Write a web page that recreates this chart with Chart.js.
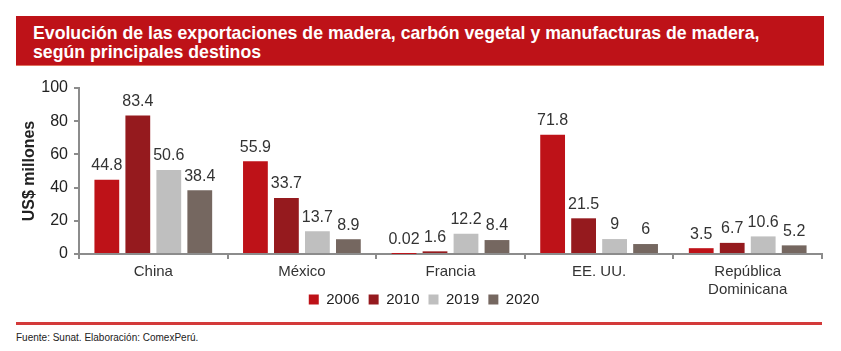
<!DOCTYPE html>
<html lang="es">

<head>
  <meta charset="utf-8">
  <title>Exportaciones de madera</title>
  <script src="https://cdn.jsdelivr.net/npm/chart.js"></script>

  <style>
    body {
      margin: 0;
      width: 841px;
      height: 351px;
      background: #fff;
      font-family: "Liberation Sans", Arial, sans-serif;
      position: relative;
      overflow: hidden;
    }

    /* Barra del título */
    .titulo {
      position: absolute;
      left: 16px;
      top: 16px;
      width: 808px;
      height: 50px;
      background: #BE1218;
      border-bottom: 1px solid #e0735f;
      box-sizing: border-box;
      color: #fff;
      font-weight: bold;
      font-size: 17.7px;
      line-height: 18.5px;
      padding: 8px 0 0 17px;
    }

    .grafico {
      position: absolute;
      left: 0;
      top: 70px;
      width: 841px;
      height: 247px;
    }

    .linea {
      position: absolute;
      left: 16px;
      top: 322px;
      width: 806px;
      height: 3px;
      background: #D33A3A;
    }

    .fuente {
      position: absolute;
      left: 16px;
      top: 332px;
      font-size: 10px;
      color: #222;
    }
  </style>
</head>

<body>

  <div class="titulo">
    Evolución de las exportaciones de madera, carbón vegetal y manufacturas de madera,<br>
    según principales destinos
  </div>

  <div class="grafico">
    <canvas id="myChart"></canvas>
  </div>

  <div class="linea"></div>
  <div class="fuente">Fuente: Sunat. Elaboración: ComexPerú.</div>

<script>
  // Datos (US$ millones)
  var destinos = ['China', 'México', 'Francia', 'EE. UU.', ['República', 'Dominicana']];
  var anios = ['2006', '2010', '2019', '2020'];
  var valores2006 = [44.8, 55.9, 0.02, 71.8, 3.5];
  var valores2010 = [83.4, 33.7, 1.6, 21.5, 6.7];
  var valores2019 = [50.6, 13.7, 12.2, 9, 10.6];
  var valores2020 = [38.4, 8.9, 8.4, 6, 5.2];
  var ticksY = [0, 20, 40, 60, 80, 100];

  var colores = ['#BE1218', '#951A1E', '#BFBFBF', '#756760'];
  var series = [valores2006, valores2010, valores2019, valores2020];

  // Etiquetas encima de cada barra
  var etiquetas = {
    id: 'etiquetas',
    afterLayout: function (chart) {
      // dejar espacio para la segunda línea de "República Dominicana"
      chart.scales.x.bottom = chart.scales.x.top + 50;
      // centrar la leyenda como en el original
      chart.legend.left += 13;
      chart.legend.right += 13;
    },
    afterDatasetsDraw: function (chart) {
      var ctx = chart.ctx;
      ctx.save();
      ctx.font = '16px "Liberation Sans", Arial, sans-serif';
      ctx.fillStyle = '#333';
      ctx.textAlign = 'center';
      ctx.textBaseline = 'bottom';
      chart.data.datasets.forEach(function (ds, i) {
        chart.getDatasetMeta(i).data.forEach(function (bar, j) {
          ctx.fillText(String(ds.data[j]), bar.x, bar.y - 6);
        });
      });
      ctx.restore();
    }
  };

  var ctx = document.getElementById('myChart').getContext('2d');
  var myChart = new Chart(ctx, {
    type: 'bar',
    data: {
      labels: destinos,
      datasets: anios.map(function (a, i) {
        return {
          label: a,
          data: series[i],
          backgroundColor: colores[i],
          categoryPercentage: 0.834,
          barPercentage: 0.8
        };
      })
    },
    options: {
      responsive: true,
      maintainAspectRatio: false,
      animation: false,
      layout: {
        padding: { top: 18, right: 19, left: 0, bottom: 0 }
      },
      scales: {
        x: {
          grid: {
            display: true,
            drawOnChartArea: false,
            drawTicks: true,
            tickLength: 5,
            color: '#8c8c8c',
            lineWidth: 2
          },
          border: { color: '#8c8c8c', width: 2 },
          ticks: {
            color: '#333',
            padding: 4,
            font: { size: 15, family: '"Liberation Sans", Arial, sans-serif' }
          },
          afterFit: function (scale) { scale.height = 29; }
        },
        y: {
          min: 0,
          max: 100,
          afterBuildTicks: function (scale) {
            scale.ticks = ticksY.map(function (v) { return { value: v }; });
          },
          grid: {
            display: true,
            drawOnChartArea: false,
            drawTicks: true,
            tickLength: 5,
            color: '#8c8c8c',
            lineWidth: 2
          },
          border: { color: '#8c8c8c', width: 2 },
          ticks: {
            color: '#222',
            padding: 6,
            font: { size: 16, family: '"Liberation Sans", Arial, sans-serif' }
          },
          title: {
            display: true,
            text: 'US$ millones',
            color: '#222',
            font: { size: 16, weight: 'bold', family: '"Liberation Sans", Arial, sans-serif' },
            padding: { top: 20, bottom: 0 }
          },
          afterFit: function (scale) { scale.width = 79; }
        }
      },
      plugins: {
        legend: {
          position: 'bottom',
          labels: {
            boxWidth: 10,
            boxHeight: 10,
            padding: 9,
            color: '#222',
            font: { size: 15, family: '"Liberation Sans", Arial, sans-serif' }
          }
        },
        tooltip: { enabled: false }
      }
    },
    plugins: [etiquetas]
  });
</script>

</body>

</html>
